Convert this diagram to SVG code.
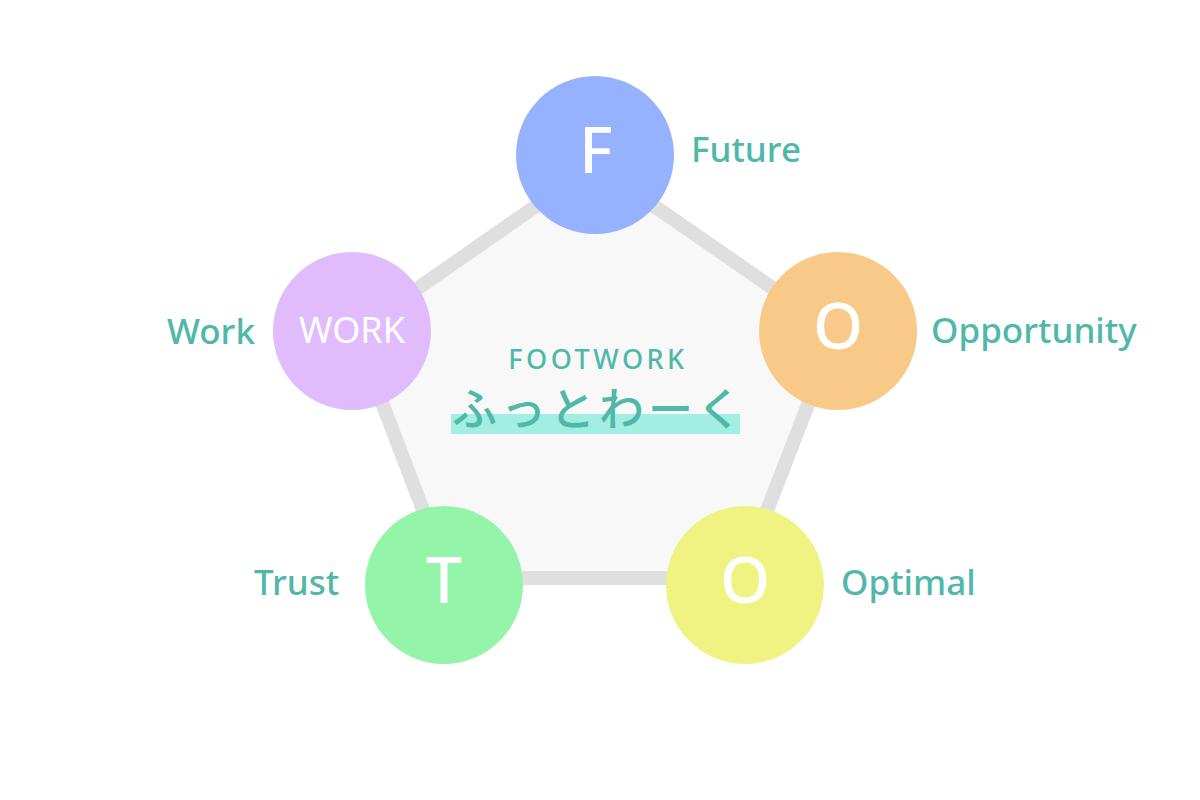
<svg xmlns="http://www.w3.org/2000/svg" width="1200" height="800" viewBox="0 0 1200 800">
<style>
.lbl{font-family:"Noto Sans","Open Sans","DejaVu Sans",sans-serif;font-size:35px;font-weight:500;fill:#4fb8a9}
.ltr{font-family:"Noto Sans","Open Sans","DejaVu Sans",sans-serif;font-size:64px;font-weight:500;fill:#ffffff;text-anchor:middle}
</style>
<rect width="1200" height="800" fill="#ffffff"/>
<g id="connectors">
<polygon points="595,165 836,332 741,578 449,578 355,332" fill="#f8f8f8" stroke="#dfdfdf" stroke-width="14" stroke-linejoin="miter"/>
</g>
<g id="center">
<rect x="451" y="414" width="289" height="20" fill="#a3eee3"/>
<text x="598" y="369" text-anchor="middle" style="font-family:'Noto Sans','Open Sans',sans-serif;font-size:27px;font-weight:500;letter-spacing:3.5px;fill:#4fb8a9">FOOTWORK</text>
<text x="599" y="426" text-anchor="middle" style="font-family:'Noto Sans CJK JP','Noto Sans',sans-serif;font-size:45px;font-weight:500;letter-spacing:4px;fill:#4fb8a9">ふっとわーく</text>
</g>
<g id="node-F">
<circle cx="595" cy="155" r="79" fill="#96b2fe"/>
<text class="ltr" x="596" y="173">F</text>
<text class="lbl" x="691" y="162">Future</text>
</g>
<g id="node-O1">
<circle cx="838" cy="331" r="79" fill="#f9c988"/>
<text class="ltr" x="838" y="349">O</text>
<text class="lbl" x="931" y="343">Opportunity</text>
</g>
<g id="node-O2">
<circle cx="745" cy="585" r="79" fill="#eff382"/>
<text class="ltr" x="745" y="603">O</text>
<text class="lbl" x="841" y="595">Optimal</text>
</g>
<g id="node-T">
<circle cx="444" cy="585" r="79" fill="#94f5aa"/>
<text class="ltr" x="444" y="603">T</text>
<text class="lbl" x="254" y="595">Trust</text>
</g>
<g id="node-WORK">
<circle cx="352" cy="331" r="79" fill="#e1bcfd"/>
<text x="352" y="343" text-anchor="middle" style="font-family:'Noto Sans','Open Sans',sans-serif;font-size:36px;fill:#ffffff">WORK</text>
<text class="lbl" x="167" y="344">Work</text>
</g>
</svg>
